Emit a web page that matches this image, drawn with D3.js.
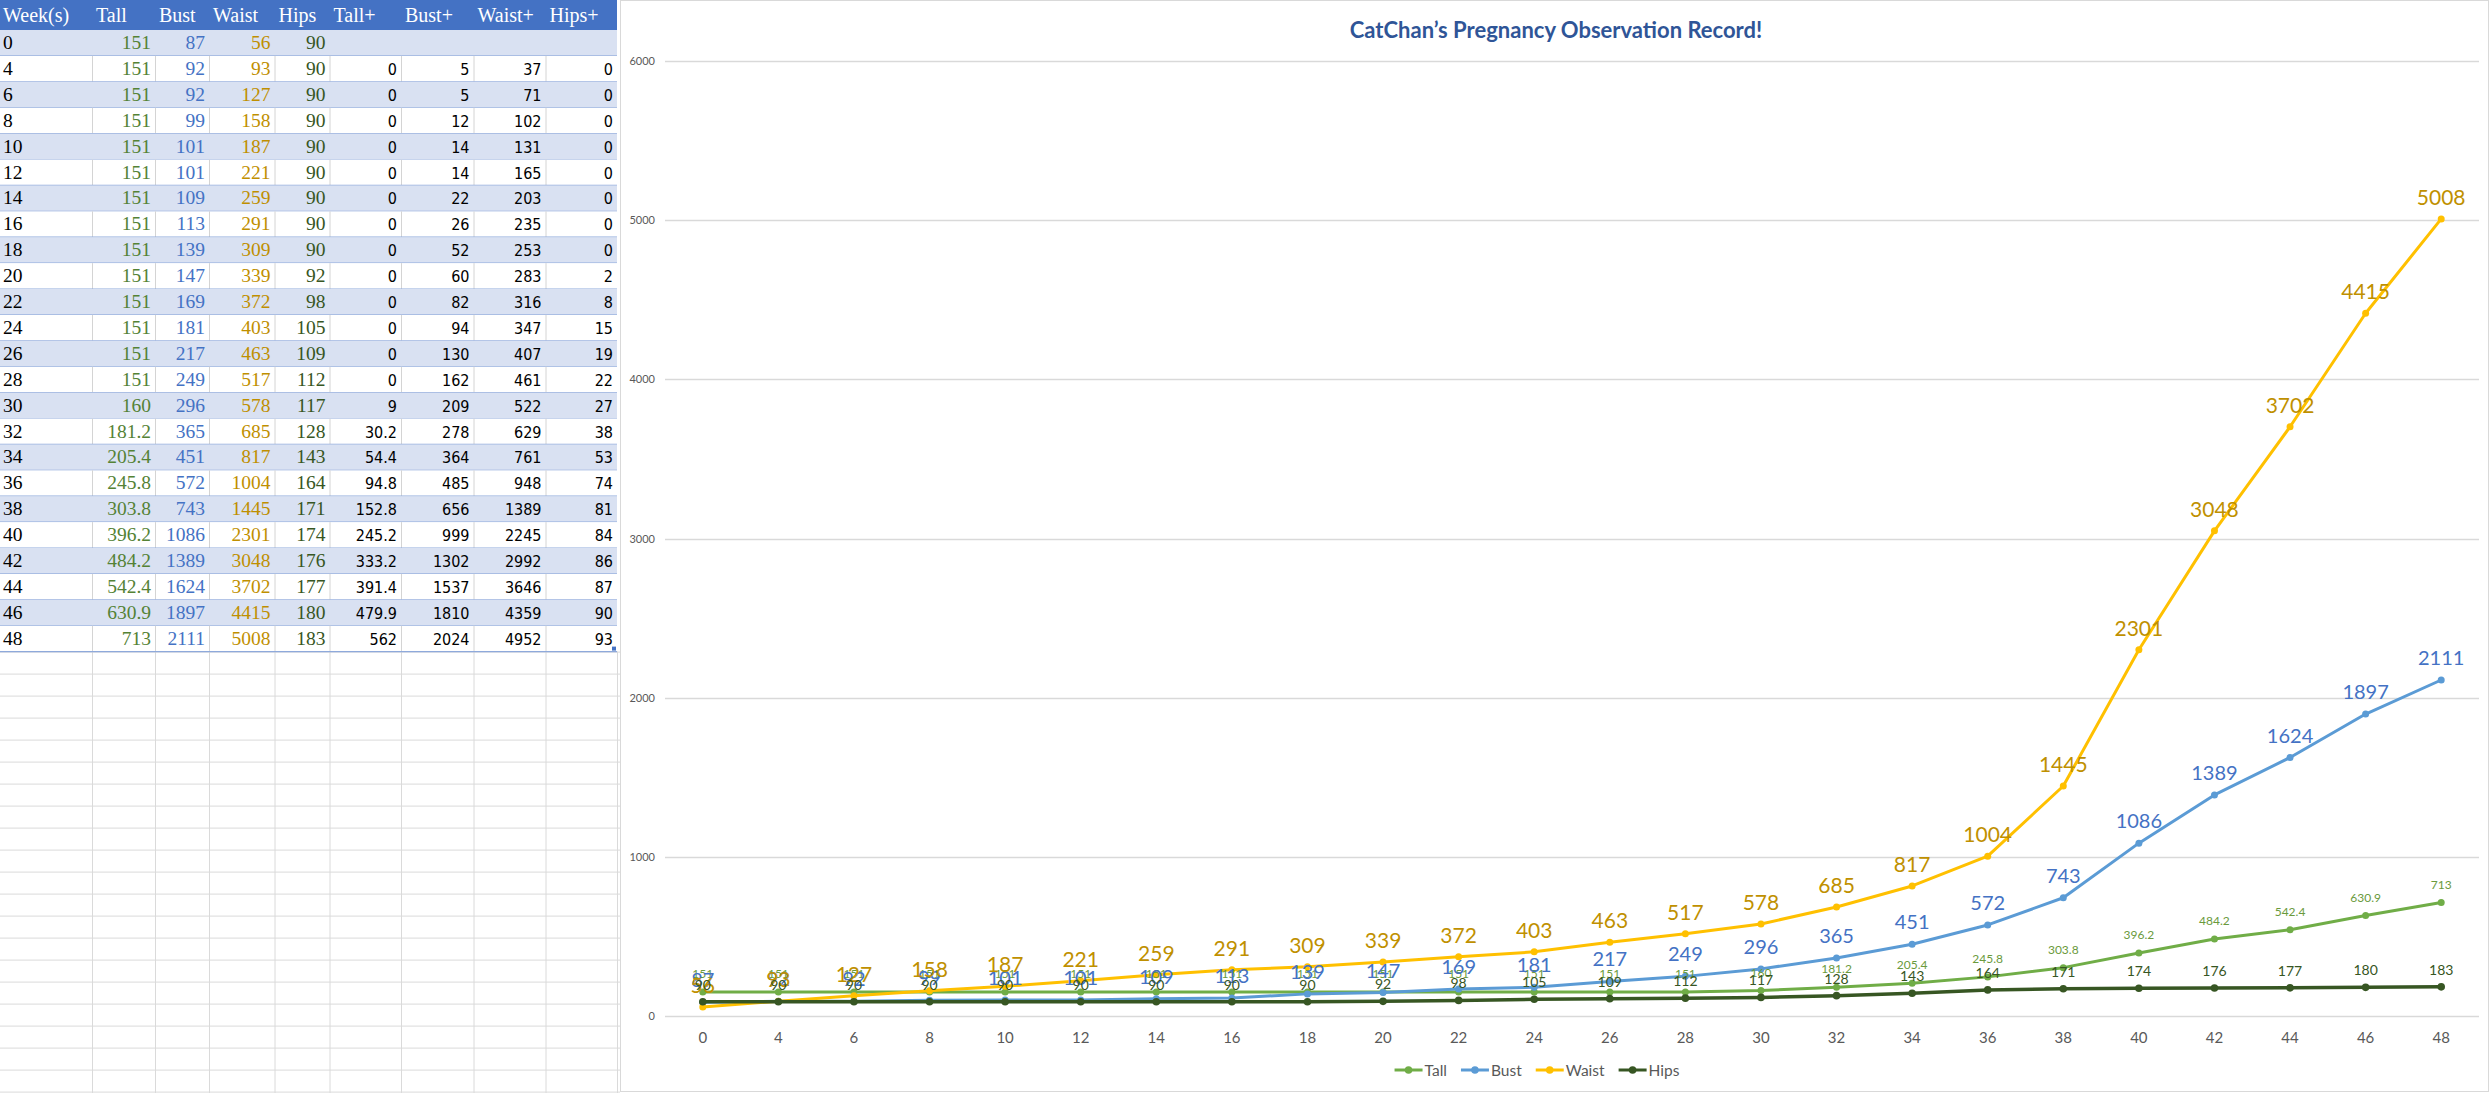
<!DOCTYPE html>
<html>
<head>
<meta charset="utf-8">
<script src="https://cdn.jsdelivr.net/npm/d3@7/dist/d3.min.js"></script>
<style>
html, body { margin: 0; padding: 0; background: #fff; }
svg { display: block; }
</style>
</head>
<body>
<svg id="sheet" width="2490" height="1093"></svg>
<script>
// catchan pregnancy sheet + chart

var weeks = [0, 4, 6, 8, 10, 12, 14, 16, 18, 20, 22, 24, 26, 28, 30, 32, 34, 36, 38, 40, 42, 44, 46, 48];
var tall = [151, 151, 151, 151, 151, 151, 151, 151, 151, 151, 151, 151, 151, 151, 160, 181.2, 205.4, 245.8, 303.8, 396.2, 484.2, 542.4, 630.9, 713];
var bust = [87, 92, 92, 99, 101, 101, 109, 113, 139, 147, 169, 181, 217, 249, 296, 365, 451, 572, 743, 1086, 1389, 1624, 1897, 2111];
var waist = [56, 93, 127, 158, 187, 221, 259, 291, 309, 339, 372, 403, 463, 517, 578, 685, 817, 1004, 1445, 2301, 3048, 3702, 4415, 5008];
var hips = [90, 90, 90, 90, 90, 90, 90, 90, 90, 92, 98, 105, 109, 112, 117, 128, 143, 164, 171, 174, 176, 177, 180, 183];
var tallPlus = ["", 0, 0, 0, 0, 0, 0, 0, 0, 0, 0, 0, 0, 0, 9, 30.2, 54.4, 94.8, 152.8, 245.2, 333.2, 391.4, 479.9, 562];
var bustPlus = ["", 5, 5, 12, 14, 14, 22, 26, 52, 60, 82, 94, 130, 162, 209, 278, 364, 485, 656, 999, 1302, 1537, 1810, 2024];
var waistPlus = ["", 37, 71, 102, 131, 165, 203, 235, 253, 283, 316, 347, 407, 461, 522, 629, 761, 948, 1389, 2245, 2992, 3646, 4359, 4952];
var hipsPlus = ["", 0, 0, 0, 0, 0, 0, 0, 0, 2, 8, 15, 19, 22, 27, 38, 53, 74, 81, 84, 86, 87, 90, 93];
var headers = ["Week(s)", "Tall", "Bust", "Waist", "Hips", "Tall+", "Bust+", "Waist+", "Hips+"];
var seriesNames = ["Tall", "Bust", "Waist", "Hips"];
var yTicks = [0, 1000, 2000, 3000, 4000, 5000, 6000];
var title = "CatChan\u2019s Pregnancy Observation Record!";

var svg = d3.select("#sheet");

// ---- spreadsheet part ----
var colEdges = [0, 92, 155, 209, 274.5, 329.5, 401, 473.5, 545.5, 617];
var headH = 30, rowH = 25.9, emptyH = 22;
var tableBottom = headH + weeks.length * rowH;
var colColors = ["#000", "#548235", "#4472C4", "#BF8F00", "#375623", "#000", "#000", "#000", "#000"];
var columns = [weeks, tall, bust, waist, hips, tallPlus, bustPlus, waistPlus, hipsPlus];

var sheet = svg.append("g").attr("class", "sheet");

// empty rows below the table
var nEmpty = Math.ceil((1093 - tableBottom) / emptyH);
var emptyRows = d3.range(nEmpty + 1).map(function(i) { return tableBottom + i * emptyH; });
sheet.selectAll("line.erow").data(emptyRows).enter().append("line")
    .attr("x1", 0).attr("x2", 620)
    .attr("y1", function(d) { return d + 0.5; }).attr("y2", function(d) { return d + 0.5; })
    .attr("stroke", "#DADADA");
sheet.selectAll("line.ecol").data(colEdges.slice(1)).enter().append("line")
    .attr("x1", function(d) { return d + 0.5; }).attr("x2", function(d) { return d + 0.5; })
    .attr("y1", tableBottom).attr("y2", 1093)
    .attr("stroke", "#DADADA");

// header
sheet.append("rect").attr("x", 0).attr("y", 0).attr("width", colEdges[9]).attr("height", headH)
    .attr("fill", "#4472C4");
sheet.selectAll("text.head").data(headers).enter().append("text")
    .attr("x", function(d, i) { return colEdges[i] + (i == 0 ? 3 : 4); })
    .attr("y", 22)
    .attr("fill", "#fff")
    .style("font-family", "'Liberation Serif', 'DejaVu Serif', serif")
    .style("font-size", "20px")
    .text(function(d) { return d; });

// body rows
var rows = sheet.selectAll("g.row").data(weeks).enter().append("g")
    .attr("transform", function(d, i) { return "translate(0," + (headH + i * rowH) + ")"; });

rows.append("rect")
    .attr("x", 0).attr("y", 0).attr("width", colEdges[9]).attr("height", rowH)
    .attr("fill", function(d, i) { return i % 2 == 0 ? "#D9E1F2" : "#fff"; });

// light cell gridlines only show on the white rows
rows.filter(function(d, i) { return i % 2 == 1; })
    .selectAll("line.vcol").data(colEdges.slice(1, 9)).enter().append("line")
    .attr("x1", function(d) { return d + 0.5; }).attr("x2", function(d) { return d + 0.5; })
    .attr("y1", 0).attr("y2", rowH)
    .attr("stroke", "#D4D4D4");

rows.append("line")
    .attr("x1", 0).attr("x2", colEdges[9])
    .attr("y1", rowH).attr("y2", rowH)
    .attr("stroke", "#8EA9DB").attr("stroke-width", 1.2);

rows.each(function(w, r) {
    var g = d3.select(this);
    columns.forEach(function(col, c) {
        var v = col[r];
        if (v === "") return;
        var plus = c >= 5;
        g.append("text")
            .attr("x", c == 0 ? 3 : colEdges[c + 1] - 4)
            .attr("y", 19)
            .attr("text-anchor", c == 0 ? "start" : "end")
            .attr("fill", colColors[c])
            .style("font-family", plus ? "'Liberation Sans Narrow', 'DejaVu Sans Condensed', sans-serif" : "'Liberation Serif', 'DejaVu Serif', serif")
            .style("font-size", plus ? "16px" : "19.5px")
            .text(v);
    });
});

// little fill handle at the corner of the table
sheet.append("rect").attr("x", colEdges[9] - 5).attr("y", tableBottom - 5)
    .attr("width", 4).attr("height", 4).attr("fill", "#4472C4");

// ---- chart part ----
var chart = svg.append("g").attr("class", "chart");
chart.append("rect").attr("x", 620.5).attr("y", 0.5).attr("width", 1868).attr("height", 1091)
    .attr("fill", "#fff").attr("stroke", "#D9D9D9");

var x = d3.scaleBand().domain(weeks).range([665, 2479]);
var y = d3.scaleLinear().domain([0, 6000]).range([1016, 61]);
function cx(i) { return x(weeks[i]) + x.bandwidth() / 2; }

chart.append("text")
    .attr("x", 1556).attr("y", 38)
    .attr("text-anchor", "middle")
    .attr("fill", "#2F5597")
    .style("font-family", "Lato, 'Open Sans', sans-serif")
    .style("font-weight", "bold")
    .style("font-size", "22px")
    .text(title);

// gridlines
chart.selectAll("line.grid").data(yTicks).enter().append("line")
    .attr("x1", 665).attr("x2", 2479)
    .attr("y1", function(d) { return Math.round(y(d)) + 0.5; })
    .attr("y2", function(d) { return Math.round(y(d)) + 0.5; })
    .attr("stroke", "#D9D9D9").attr("stroke-width", 1.3);

var yAxis = chart.append("g").attr("transform", "translate(665,0)")
    .call(d3.axisLeft(y).tickValues(yTicks).tickFormat(d3.format("d")).tickSize(0).tickPadding(10));
yAxis.select(".domain").remove();
yAxis.selectAll("text").attr("fill", "#595959")
    .style("font-family", "Lato, sans-serif").style("font-size", "11px");

var xAxis = chart.append("g").attr("transform", "translate(0,1016)")
    .call(d3.axisBottom(x).tickSize(0).tickPadding(16));
xAxis.select(".domain").remove();
xAxis.selectAll("text").attr("fill", "#595959")
    .style("font-family", "Lato, sans-serif").style("font-size", "15px");

var series = [
    { name: "Tall", values: tall, color: "#70AD47", label: "#6A9A3C", width: 3, r: 3.5, font: 12, lift: 14 },
    { name: "Bust", values: bust, color: "#5B9BD5", label: "#4472C4", width: 3, r: 3.5, font: 20, lift: 15 },
    { name: "Waist", values: waist, color: "#FFC000", label: "#BF9000", width: 3, r: 3.5, font: 21, lift: 14 },
    { name: "Hips", values: hips, color: "#375623", label: "#375623", width: 3.5, r: 3.8, font: 14, lift: 12 }
];

var line = d3.line()
    .x(function(d, i) { return cx(i); })
    .y(function(d) { return y(d); });

series.forEach(function(s) {
    var g = chart.append("g");
    g.append("path").datum(s.values)
        .attr("d", line)
        .attr("fill", "none")
        .attr("stroke", s.color)
        .attr("stroke-width", s.width)
        .attr("stroke-linejoin", "round");
    g.selectAll("circle").data(s.values).enter().append("circle")
        .attr("cx", function(d, i) { return cx(i); })
        .attr("cy", function(d) { return y(d); })
        .attr("r", s.r)
        .attr("fill", s.color);
});

// data labels sit on top of all the lines
series.forEach(function(s) {
    chart.append("g").selectAll("text").data(s.values).enter().append("text")
        .attr("x", function(d, i) { return cx(i); })
        .attr("y", function(d) { return y(d) - s.lift; })
        .attr("text-anchor", "middle")
        .attr("fill", s.label)
        .style("font-family", "Lato, sans-serif")
        .style("font-size", s.font + "px")
        .text(function(d) { return d; });
});

// legend, centred under the plot
var legend = chart.append("g").attr("transform", "translate(0,1070)");
var items = legend.selectAll("g").data(series).enter().append("g");
items.append("line").attr("x1", 0).attr("x2", 28).attr("y1", 0).attr("y2", 0)
    .attr("stroke", function(d) { return d.color; }).attr("stroke-width", 3);
items.append("circle").attr("cx", 14).attr("cy", 0).attr("r", 3.8)
    .attr("fill", function(d) { return d.color; });
items.append("text").attr("x", 30).attr("y", 5.5)
    .attr("fill", "#595959")
    .style("font-family", "Lato, sans-serif").style("font-size", "15.5px")
    .text(function(d) { return d.name; });
var pos = 0, offsets = [];
items.each(function() {
    offsets.push(pos);
    pos += 30 + this.querySelector("text").getComputedTextLength() + 14;
});
var startX = 1537 - (pos - 14) / 2;
items.attr("transform", function(d, i) { return "translate(" + (startX + offsets[i]) + ",0)"; });
</script>
</body>
</html>
